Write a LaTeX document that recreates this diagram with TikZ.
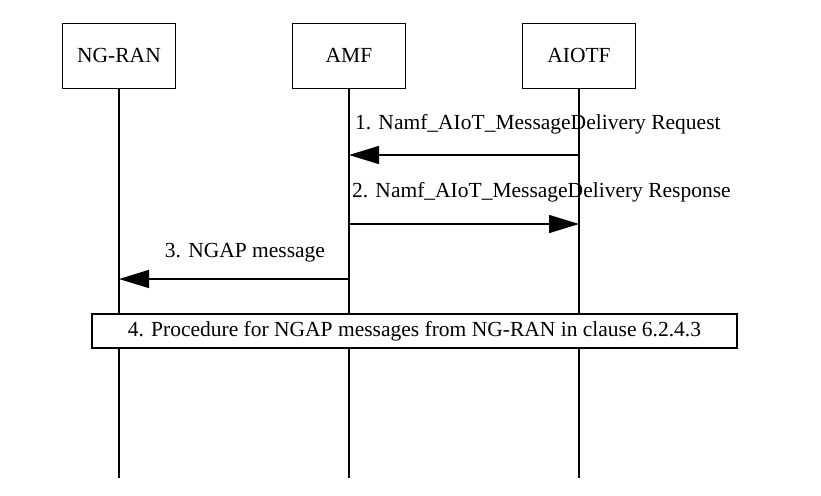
\documentclass[tikz,border=0pt]{standalone}
\usepackage{fontspec}
\setmainfont{Liberation Serif}
\usetikzlibrary{arrows.meta}
\begin{document}
\begin{tikzpicture}[x=1pt,y=-1pt,
  ent/.style={draw,minimum width=113pt,minimum height=65pt,font=\fontsize{21.5}{24}\selectfont},
  life/.style={line width=1.5pt},
  msg/.style={line width=1.5pt,-{Triangle[length=30pt,width=18pt]}},
  lbl/.style={font=\fontsize{21.5}{24}\selectfont,inner sep=1pt}]
\useasboundingbox (0,0) rectangle (821,495);
\node[ent] (ran) at (119,55.5) {NG-RAN};
\node[ent] (amf) at (349,55.5) {AMF};
\node[ent] (aiotf) at (579,55.5) {AIOTF};
\coordinate (ranE) at (119,478);
\coordinate (amfE) at (349,478);
\coordinate (aiotfE) at (579,478);
\draw[life] (ran.south) -- (ranE);
\draw[life] (amf.south) -- (amfE);
\draw[life] (aiotf.south) -- (aiotfE);
\coordinate (m1a) at (579,155); \coordinate (m1b) at (349,155);
\coordinate (m2a) at (349,224); \coordinate (m2b) at (579,224);
\coordinate (m3a) at (349,279); \coordinate (m3b) at (119,279);
\draw[msg] (m1a) -- (m1b);
\draw[msg] (m2a) -- (m2b);
\draw[msg] (m3a) -- (m3b);
\node[lbl,anchor=west] (l1) at (354,124) {1. Namf\_AIoT\_MessageDelivery Request};
\node[lbl,anchor=west] (l2) at (351,192) {2. Namf\_AIoT\_MessageDelivery Response};
\node[lbl] (l3) at (245,253) {3. NGAP message};
\node[draw,fill=white,line width=1.5pt,minimum width=645pt,minimum height=34pt,font=\fontsize{21.5}{24}\selectfont] (p4) at (414.5,331) {4. Procedure for NGAP messages from NG-RAN in clause 6.2.4.3};
\end{tikzpicture}
\end{document}
